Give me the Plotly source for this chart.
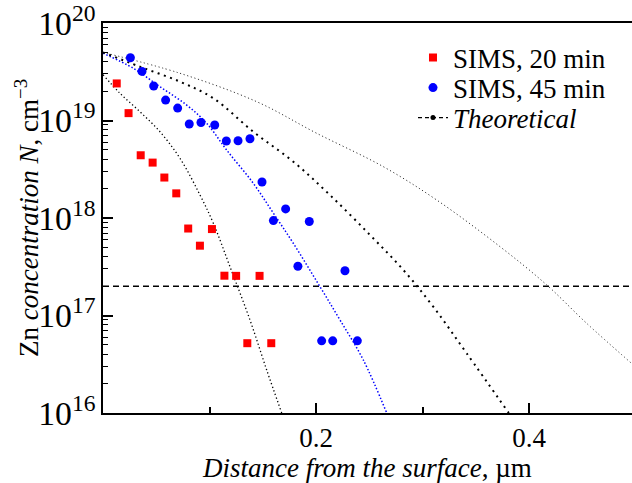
import plotly.graph_objects as go

# ---- data ----
sims20_x = [0.0129, 0.024, 0.0354, 0.0466, 0.0576, 0.0688, 0.080, 0.091, 0.1023, 0.114, 0.125, 0.1355, 0.147, 0.158]
sims20_n = [2.4e19, 1.19e19, 4.4e18, 3.7e18, 2.6e18, 1.79e18, 7.8e17, 5.2e17, 7.7e17, 2.56e17, 2.55e17, 5.2e16, 2.55e17, 5.2e16]

sims45_x = [0.0257, 0.0366, 0.0476, 0.0588, 0.0701, 0.081, 0.092, 0.1049, 0.1158, 0.1268, 0.138,
            0.1493, 0.160, 0.1715, 0.183, 0.1937, 0.2053, 0.2157, 0.2272, 0.2388]
sims45_n = [4.4e19, 3.19e19, 2.26e19, 1.62e19, 1.34e19, 9.2e18, 9.55e18, 9.0e18, 6.16e18, 6.2e18, 6.5e18,
            2.34e18, 9.4e17, 1.24e18, 3.2e17, 9.2e17, 5.5e16, 5.5e16, 2.88e17, 5.5e16]

theory1_x = [0, 0.016, 0.0347, 0.0535, 0.0723, 0.0911, 0.1036, 0.1192, 0.138, 0.1537, 0.1678]
theory1_n = [2.95e19, 1.90e19, 1.23e19, 7.67e18, 4.09e18, 1.72e18, 8.83e17, 3.17e17, 8.99e16, 2.76e16, 1.0e16]

theory2_x = [0, 0.0285, 0.0535, 0.0786, 0.0974, 0.1161, 0.1411, 0.16, 0.1787, 0.2038, 0.2225, 0.2444, 0.2664]
theory2_n = [4.9e19, 3.43e19, 2.22e19, 1.44e19, 9.35e18, 4.98e18, 2.27e18, 1.12e18, 5.5e17, 1.97e17, 9.0e16, 3.5e16, 1.0e16]

theory3_x = [0, 0.0347, 0.0723, 0.1036, 0.1411, 0.1787, 0.2131, 0.2507, 0.282, 0.3101, 0.3415, 0.381]
theory3_n = [5.0e19, 3.56e19, 2.5e19, 1.69e19, 7.67e18, 3.78e18, 1.72e18, 6.7e17, 2.93e17, 1.23e17, 4.09e16, 1.0e16]

theory3p_x = [0, 0.0723, 0.1443, 0.2006, 0.2632, 0.3133, 0.3728, 0.4166, 0.4542, 0.4967]
theory3p_n = [5.0e19, 3.05e19, 1.56e19, 7.4e18, 3.36e18, 1.53e18, 5.08e17, 2.06e17, 8.3e16, 3.2e16]

level_x = [0, 0.4967]
level_n = [2.0e17, 2.0e17]

curve_labels = ["1", "2", "3", "3'"]
label_x = [0.1684, 0.2656, 0.3762, 0.478]
label_n = [2.5e16, 2.5e16, 2.5e16, 2.5e16]

x_ticks = [0.2, 0.4]
x_minor = [0.1, 0.3]

FONT = "'Liberation Serif', 'Times New Roman', Times, serif"
FS = 27

fig = go.Figure()

fig.add_trace(go.Scatter(x=level_x, y=level_n, mode="lines", showlegend=False,
                         line=dict(color="black", width=1.5, dash="6px,4px")))
fig.add_trace(go.Scatter(x=theory1_x, y=theory1_n, mode="lines", showlegend=False, line_shape="spline",
                         line=dict(color="black", width=1.3, dash="1.3px,2.5px")))
fig.add_trace(go.Scatter(x=theory2_x, y=theory2_n, mode="lines", showlegend=False, line_shape="spline",
                         line=dict(color="blue", width=1.5, dash="1.5px,2px")))
fig.add_trace(go.Scatter(x=theory3_x, y=theory3_n, mode="lines", showlegend=False, line_shape="spline",
                         line=dict(color="black", width=2, dash="2px,4.5px")))
fig.add_trace(go.Scatter(x=theory3p_x, y=theory3p_n, mode="lines", showlegend=False, line_shape="spline",
                         line=dict(color="#333333", width=1, dash="1.2px,2.6px")))

fig.add_trace(go.Scatter(x=sims20_x, y=sims20_n, mode="markers", name="SIMS, 20 min", legend="legend",
                         marker=dict(symbol="square", color="#ff0000", size=8)))
fig.add_trace(go.Scatter(x=sims45_x, y=sims45_n, mode="markers", name="SIMS, 45 min", legend="legend2",
                         marker=dict(symbol="circle", color="#0000ff", size=9)))
fig.add_trace(go.Scatter(x=[None], y=[None], mode="lines+markers", name="<i>Theoretical</i>", legend="legend3",
                         line=dict(color="black", width=1.2, dash="4px,3px"),
                         marker=dict(symbol="circle", color="black", size=5)))

for t, lx, ly in zip(curve_labels, label_x, label_n):
    fig.add_annotation(x=lx, y=ly, yref="y", text=f"<i>{t}</i>", showarrow=False,
                       font=dict(family=FONT, size=FS, color="black"))

# y-axis title as rotated annotation for exact placement
fig.add_annotation(x=0, y=0.5, xref="paper", yref="paper", xanchor="center", yanchor="middle",
                   xshift=-76, textangle=-90, showarrow=False,
                   text="Zn <i>concentration N</i>, cm<sup>−3</sup>",
                   font=dict(family=FONT, size=FS, color="black"))

leg = dict(xanchor="left", yanchor="middle", bgcolor="rgba(0,0,0,0)", borderwidth=0,
           font=dict(family=FONT, size=FS, color="black"))

fig.update_layout(
    width=632, height=483,
    margin=dict(l=103, r=0, t=23, b=70),
    paper_bgcolor="white", plot_bgcolor="white",
    font=dict(family=FONT, size=FS, color="black"),
    showlegend=True,
    legend=dict(x=0.586, y=0.9103, **leg),
    legend2=dict(x=0.586, y=0.8333, **leg),
    legend3=dict(x=0.586, y=0.7564, **leg),
)

fig.update_xaxes(
    range=[0, 0.4967], showgrid=False, zeroline=False,
    showline=True, linecolor="black", linewidth=2, mirror=True,
    tickmode="array", tickvals=x_ticks, ticktext=[str(v) for v in x_ticks],
    ticks="inside", ticklen=10, tickwidth=1.5, tickcolor="black",
    minor=dict(tickmode="array", tickvals=x_minor, ticks="inside", ticklen=6, tickwidth=1.5, tickcolor="black", showgrid=False),
    tickfont=dict(family=FONT, size=FS),
    title=dict(text="<i>Distance from the surface</i>, µm", font=dict(family=FONT, size=FS), standoff=2),
)

fig.update_yaxes(
    type="log", range=[16, 20], showgrid=False, zeroline=False,
    showline=True, linecolor="black", linewidth=2, mirror=False,
    dtick=1, exponentformat="power", ticklabeloverflow="allow",
    ticks="inside", ticklen=10, tickwidth=1.5, tickcolor="black",
    minor=dict(ticks="inside", ticklen=5, tickwidth=1.2, tickcolor="black", dtick="D1", showgrid=False),
    tickfont=dict(family=FONT, size=FS),
)

fig.write_html("out.html")
